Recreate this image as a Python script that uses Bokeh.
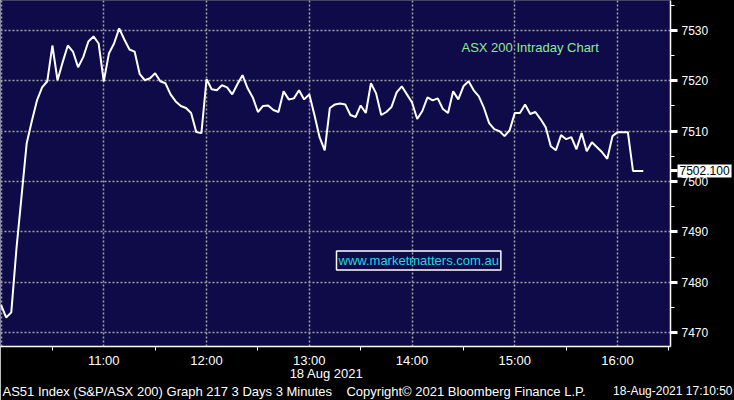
import pandas as pd
from bokeh.plotting import figure
from bokeh.models import Range1d, FixedTicker, Label, DatetimeTickFormatter
from bokeh.embed import file_html
from bokeh.resources import INLINE

# ---------------- data ----------------
session_start = "2021-08-18 10:00"
bar_minutes = 3
asx200 = [
    7475.5, 7473.0, 7474.0, 7486.6, 7497.1, 7507.6, 7512.0, 7516.1, 7518.7, 7519.9,
    7527.0, 7520.1, 7523.7, 7527.0, 7525.8, 7522.7, 7524.7, 7527.8, 7528.8, 7527.4,
    7519.9, 7525.4, 7527.4, 7530.4, 7528.2, 7526.2, 7525.8, 7521.3, 7520.1, 7520.5,
    7521.5, 7519.9, 7519.5, 7517.3, 7515.9, 7515.0, 7514.6, 7513.6, 7509.8, 7509.6,
    7520.3, 7518.3, 7518.1, 7519.1, 7518.7, 7517.3, 7519.3, 7521.1, 7518.5, 7516.7,
    7513.8, 7515.0, 7515.1, 7514.2, 7513.8, 7517.9, 7516.3, 7516.5, 7518.1, 7516.3,
    7517.3, 7513.2, 7508.8, 7506.2, 7514.6, 7515.3, 7515.5, 7515.3, 7513.2, 7512.8,
    7515.1, 7513.6, 7519.5, 7517.5, 7513.2, 7513.8, 7514.8, 7517.7, 7518.9, 7517.3,
    7515.7, 7512.4, 7514.0, 7516.7, 7516.1, 7516.5, 7514.4, 7513.6, 7517.9, 7516.3,
    7518.9, 7519.9, 7518.1, 7516.9, 7514.6, 7511.6, 7510.4, 7510.0, 7509.0, 7510.2,
    7513.6, 7513.6, 7515.3, 7513.4, 7513.8, 7512.4, 7510.8, 7507.0, 7506.2, 7509.2,
    7508.4, 7508.8, 7506.4, 7509.6, 7506.0, 7507.8, 7506.8, 7505.8, 7504.5, 7509.0,
    7509.8, 7509.8, 7509.8, 7502.1, 7502.1, 7502.1,
]
last_price = 7502.100
x_grid_times = ["10:00", "11:00", "12:00", "13:00", "14:00", "15:00", "16:00"]
x_label_times = ["11:00", "12:00", "13:00", "14:00", "15:00", "16:00"]
x_minor_times = ["10:30", "11:30", "12:30", "13:30", "14:30", "15:30", "16:30"]
y_ticks = [7470, 7480, 7490, 7500, 7510, 7520, 7530]
y_minor = [7465, 7475, 7485, 7495, 7505, 7515, 7525, 7535]
date_text = "18 Aug 2021"
chart_title = "ASX 200 Intraday Chart"
watermark = "www.marketmatters.com.au"
footer_left = "AS51 Index (S&P/ASX 200) Graph 217 3 Days 3 Minutes"
footer_mid = "Copyright\u00a9 2021 Bloomberg Finance L.P."
footer_right = "18-Aug-2021 17:10:50"

day = "2021-08-18 "
times = pd.date_range(session_start, periods=len(asx200), freq=f"{bar_minutes}min")


def ms(hhmm):
    return pd.Timestamp(day + hhmm).value / 1e6


NAVY = "#0f0b48"
FONT = "Liberation Sans"
TOP = 120          # hidden top border (pulled above the page) hosting unclipped labels
FRAME_H = 347
Y0, Y1 = 7467.23, 7535.94

x_start = ms("10:00") - 0.3 * 60000
x_end = x_start + 391.2 * 60000

p = figure(width=734, height=FRAME_H + 53 + TOP, output_backend="svg",
           toolbar_location=None, x_axis_type="datetime", y_axis_location="right",
           x_range=Range1d(x_start, x_end), y_range=Range1d(Y0, Y1),
           min_border_left=0, min_border_top=TOP, min_border_right=64,
           min_border_bottom=53, background_fill_color=NAVY, border_fill_color="black",
           outline_line_color=None, margin=(-TOP, 0, 0, 0))

p.line(times, asx200, line_color="white", line_width=2)

# grids
p.xgrid.ticker = FixedTicker(ticks=[ms(t) for t in x_grid_times])
p.ygrid.ticker = FixedTicker(ticks=y_ticks)
for g in (p.xgrid, p.ygrid):
    g.grid_line_color = "#a3a3a3"
    g.grid_line_dash = "2 2"
    g.grid_line_width = 1.5

# x axis
xa = p.xaxis[0]
xa.ticker = FixedTicker(ticks=[ms(t) for t in x_label_times],
                        minor_ticks=[ms(t) for t in x_minor_times])
xa.formatter = DatetimeTickFormatter(hours="%H:%M", minutes="%H:%M", hourmin="%H:%M",
                                     days="%H:%M")
xa.axis_line_color = "white"
xa.axis_line_width = 1.5
xa.major_tick_out = 0
xa.major_tick_in = 0
xa.minor_tick_out = 4
xa.minor_tick_in = 0
xa.minor_tick_line_color = "white"
xa.major_label_text_color = "white"
xa.major_label_text_font = FONT
xa.major_label_text_font_size = "13px"
xa.major_label_standoff = 2

# y axis (major ticks act as the pointer marks, incl. the one at the last price)
ya = p.yaxis[0]
ya.ticker = FixedTicker(ticks=y_ticks + [last_price], minor_ticks=y_minor)
ya.major_label_overrides = {last_price: ""}
ya.axis_line_color = "white"
ya.axis_line_width = 1.5
ya.major_tick_out = 7
ya.major_tick_in = 0
ya.major_tick_line_color = "white"
ya.major_tick_line_width = 3
ya.minor_tick_out = 4
ya.minor_tick_in = 0
ya.minor_tick_line_color = "white"
ya.major_label_text_color = "white"
ya.major_label_text_font = FONT
ya.major_label_text_font_size = "12px"
ya.major_label_standoff = 4

# ---- last price tag: label in the hidden top side panel (not clipped to the frame)
p.add_layout(Label(x=677, y=last_price, x_units="screen", text=f"{last_price:.3f}",
                   text_color="black", text_font=FONT, text_font_size="12px",
                   text_baseline="middle", text_align="left",
                   background_fill_color="white", padding=2), "above")

# footer right part, positioned 44.5px below the frame bottom
px_per_unit = FRAME_H / (Y1 - Y0)
p.add_layout(Label(x=732, y=Y0 - 44.5 / px_per_unit, x_units="screen",
                   text=footer_right, text_color="white", text_font=FONT,
                   text_font_size="12px", text_baseline="middle", text_align="right"),
             "above")

# ---- annotations inside the frame (screen units from frame bottom-left)
p.add_layout(Label(x=461, y=299, x_units="screen", y_units="screen", text=chart_title,
                   text_color="#8fea8f", text_font=FONT, text_font_size="13px",
                   text_baseline="middle", text_align="left"))
p.add_layout(Label(x=336, y=86, x_units="screen", y_units="screen", text=watermark,
                   text_color="#22d6e6", text_font=FONT, text_font_size="13px",
                   text_baseline="middle", text_align="left",
                   border_line_color="white", border_line_width=1.5, padding=2))

# ---- rows under the x axis
p.add_layout(Label(x=326, y=5, x_units="screen", y_units="screen", text=date_text,
                   text_color="white", text_font=FONT, text_font_size="13px",
                   text_baseline="bottom", text_align="center"), "below")
p.add_layout(Label(x=2, y=1.5, x_units="screen", y_units="screen",
                   text=footer_left + "\u00a0" * 4 + footer_mid,
                   text_color="white", text_font=FONT, text_font_size="13px",
                   text_baseline="bottom", text_align="left"), "below")

open("out.html", "w").write(file_html(p, INLINE))
